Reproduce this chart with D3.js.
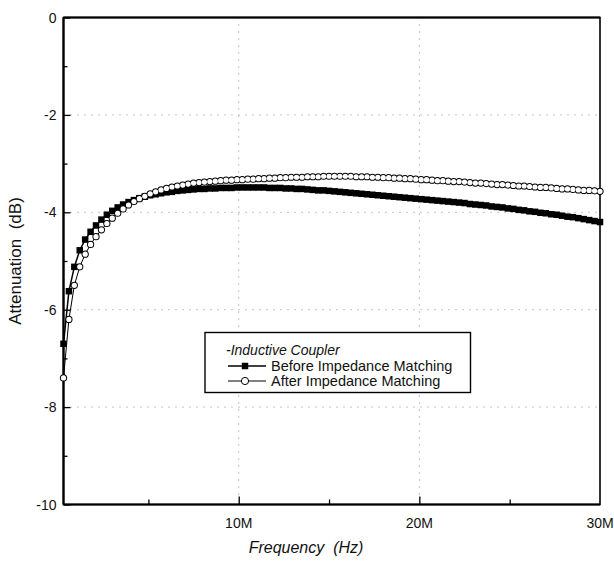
<!DOCTYPE html>
<html>
<head>
<meta charset="utf-8">
<script src="https://cdn.jsdelivr.net/npm/d3@7/dist/d3.min.js"></script>
<style>
  html, body { margin: 0; padding: 0; background: #fff; }
  svg { display: block; }
  text { font-family: "Liberation Sans", Arial, sans-serif; fill: #111; }
</style>
</head>
<body>
<svg id="chart" width="614" height="563"></svg>
<script>
// Frequency samples (MHz)
const freqMHz = [
  0.3, 0.6, 0.9, 1.2, 1.5, 1.8, 2.1, 2.4, 2.7, 3.0,
  3.3, 3.6, 3.9, 4.2, 4.5, 4.8, 5.1, 5.4, 5.7, 6.0,
  6.3, 6.6, 6.9, 7.2, 7.5, 7.8, 8.1, 8.4, 8.7, 9.0,
  9.3, 9.6, 9.9, 10.2, 10.5, 10.8, 11.1, 11.4, 11.7, 12.0,
  12.3, 12.6, 12.9, 13.2, 13.5, 13.8, 14.1, 14.4, 14.7, 15.0,
  15.3, 15.6, 15.9, 16.2, 16.5, 16.8, 17.1, 17.4, 17.7, 18.0,
  18.3, 18.6, 18.9, 19.2, 19.5, 19.8, 20.1, 20.4, 20.7, 21.0,
  21.3, 21.6, 21.9, 22.2, 22.5, 22.8, 23.1, 23.4, 23.7, 24.0,
  24.3, 24.6, 24.9, 25.2, 25.5, 25.8, 26.1, 26.4, 26.7, 27.0,
  27.3, 27.6, 27.9, 28.2, 28.5, 28.8, 29.1, 29.4, 29.7, 30.0
];

// Attenuation (dB) before impedance matching
const beforeDb = [
  -6.70, -5.62, -5.12, -4.78, -4.56, -4.40, -4.27, -4.15, -4.05, -3.97,
  -3.90, -3.84, -3.79, -3.75, -3.71, -3.68, -3.65, -3.63, -3.61, -3.59,
  -3.58, -3.56, -3.55, -3.54, -3.53, -3.52, -3.52, -3.51, -3.51, -3.50,
  -3.50, -3.50, -3.49, -3.49, -3.49, -3.49, -3.49, -3.49, -3.50, -3.50,
  -3.50, -3.51, -3.51, -3.52, -3.52, -3.53, -3.54, -3.55, -3.55, -3.56,
  -3.57, -3.58, -3.59, -3.60, -3.61, -3.62, -3.63, -3.64, -3.65, -3.66,
  -3.67, -3.68, -3.69, -3.70, -3.71, -3.72, -3.73, -3.74, -3.75, -3.76,
  -3.77, -3.78, -3.79, -3.80, -3.81, -3.83, -3.84, -3.85, -3.86, -3.88,
  -3.89, -3.90, -3.92, -3.93, -3.95, -3.96, -3.98, -3.99, -4.01, -4.02,
  -4.04, -4.05, -4.07, -4.09, -4.10, -4.12, -4.14, -4.16, -4.18, -4.20
];

// Attenuation (dB) after impedance matching
const afterDb = [
  -7.40, -6.20, -5.50, -5.12, -4.86, -4.66, -4.50, -4.36, -4.23, -4.12,
  -4.02, -3.93, -3.85, -3.78, -3.72, -3.67, -3.62, -3.58, -3.54, -3.51,
  -3.48, -3.46, -3.44, -3.42, -3.40, -3.39, -3.38, -3.37, -3.36, -3.35,
  -3.34, -3.34, -3.33, -3.33, -3.32, -3.32, -3.31, -3.31, -3.30, -3.30,
  -3.29, -3.29, -3.28, -3.28, -3.28, -3.27, -3.27, -3.27, -3.26, -3.26,
  -3.26, -3.26, -3.26, -3.26, -3.27, -3.27, -3.27, -3.28, -3.28, -3.29,
  -3.29, -3.30, -3.30, -3.31, -3.31, -3.32, -3.33, -3.33, -3.34, -3.35,
  -3.35, -3.36, -3.37, -3.37, -3.38, -3.39, -3.40, -3.40, -3.41, -3.42,
  -3.43, -3.43, -3.44, -3.45, -3.46, -3.46, -3.47, -3.48, -3.49, -3.49,
  -3.50, -3.51, -3.52, -3.52, -3.53, -3.54, -3.55, -3.55, -3.56, -3.57
];

const xTickValues = [10, 20, 30];
const xTickLabels = ["10M", "20M", "30M"];
const yTickValues = [0, -2, -4, -6, -8, -10];
const legendTitle = "-Inductive Coupler";
const seriesNames = ["Before Impedance Matching", "After Impedance Matching"];

const svg = d3.select("#chart");
const plotLeft = 63.5, plotRight = 600, plotTop = 17.5, plotBottom = 504.5;

const x = d3.scaleLinear().domain([0.3, 30]).range([plotLeft, plotRight]);
const y = d3.scaleLinear().domain([-10, 0]).range([plotBottom, plotTop]);

svg.append("rect").attr("width", 614).attr("height", 563).attr("fill", "#fff");

// dotted grid
const grid = svg.append("g").attr("stroke", "#8a8a8a").attr("stroke-width", 1)
  .attr("stroke-dasharray", "1,6").attr("fill", "none");
grid.selectAll("line.h").data([-2, -4, -6, -8]).join("line")
  .attr("class", "h")
  .attr("x1", plotLeft).attr("x2", plotRight)
  .attr("y1", d => y(d)).attr("y2", d => y(d));
grid.selectAll("line.v").data([10, 20]).join("line")
  .attr("class", "v")
  .attr("x1", d => x(d)).attr("x2", d => x(d))
  .attr("y1", plotTop).attr("y2", plotBottom);

// axes (ticks pointing into the plot)
const xAxis = d3.axisBottom(x).tickValues([5, 10, 15, 20, 25])
  .tickSizeOuter(0).tickFormat("");
const gx = svg.append("g").attr("transform", `translate(0,${plotBottom})`).call(xAxis);
gx.selectAll(".tick line").attr("y2", d => (d % 10 === 0 ? -8 : -5)).attr("stroke-width", 1.3);
gx.select(".domain").remove();

const yAxis = d3.axisLeft(y).tickValues(d3.range(-9, 0, 2).concat(yTickValues))
  .tickSizeOuter(0).tickFormat("");
const gy = svg.append("g").attr("transform", `translate(${plotLeft},0)`).call(yAxis);
gy.selectAll(".tick line").attr("x2", d => (d % 2 === 0 ? 7 : 4)).attr("stroke-width", 1.3);
gy.select(".domain").remove();

// tick labels
svg.append("g").selectAll("text").data(xTickValues).join("text")
  .attr("x", d => x(d)).attr("y", plotBottom + 23)
  .attr("text-anchor", "middle").attr("font-size", 14)
  .text((d, i) => xTickLabels[i]);
svg.append("g").selectAll("text").data(yTickValues).join("text")
  .attr("x", plotLeft - 7).attr("y", d => y(d) + 5)
  .attr("text-anchor", "end").attr("font-size", 14)
  .text(d => d);

// frame
svg.append("rect").attr("x", plotLeft).attr("y", plotTop)
  .attr("width", plotRight - plotLeft).attr("height", plotBottom - plotTop)
  .attr("fill", "none").attr("stroke", "#000").attr("stroke-width", 1.6);
svg.append("line").attr("x1", plotLeft).attr("x2", plotLeft).attr("y1", plotTop).attr("y2", plotBottom)
  .attr("stroke", "#000").attr("stroke-width", 2.2);
svg.append("line").attr("x1", plotLeft).attr("x2", plotRight).attr("y1", plotBottom).attr("y2", plotBottom)
  .attr("stroke", "#000").attr("stroke-width", 2.2);
svg.append("line").attr("x1", plotLeft).attr("x2", plotRight).attr("y1", plotTop).attr("y2", plotTop)
  .attr("stroke", "#000").attr("stroke-width", 2.2);

// axis titles
svg.append("text").attr("x", 306).attr("y", 553).attr("text-anchor", "middle")
  .attr("font-size", 16).attr("font-style", "italic").attr("xml:space", "preserve")
  .text("Frequency  (Hz)");
svg.append("text").attr("transform", `translate(21,${(plotTop + plotBottom) / 2}) rotate(-90)`)
  .attr("text-anchor", "middle").attr("font-size", 17).attr("xml:space", "preserve")
  .text("Attenuation  (dB)");

// series
const line = d3.line().x(d => x(d[0])).y(d => y(d[1]));
const beforePts = freqMHz.map((f, i) => [f, beforeDb[i]]);
const afterPts = freqMHz.map((f, i) => [f, afterDb[i]]);

const sq = 6.5;
svg.append("path").datum(beforePts).attr("d", line)
  .attr("fill", "none").attr("stroke", "#000").attr("stroke-width", 1.5);
svg.append("g").selectAll("rect").data(beforePts).join("rect")
  .attr("x", d => x(d[0]) - sq / 2).attr("y", d => y(d[1]) - sq / 2)
  .attr("width", sq).attr("height", sq).attr("fill", "#000");

// open circles: dark disks under white disks so overlapping markers merge into one outlined band
svg.append("path").datum(afterPts).attr("d", line)
  .attr("fill", "none").attr("stroke", "#000").attr("stroke-width", 1);
const rOut = 3.6, rIn = 2.6;
svg.append("g").selectAll("circle").data(afterPts).join("circle")
  .attr("cx", d => x(d[0])).attr("cy", d => y(d[1])).attr("r", rOut)
  .attr("fill", "#000");
svg.append("g").selectAll("circle").data(afterPts).join("circle")
  .attr("cx", d => x(d[0])).attr("cy", d => y(d[1])).attr("r", rIn)
  .attr("fill", "#fff");

// legend
const lg = svg.append("g");
lg.append("rect").attr("x", 205).attr("y", 332.5).attr("width", 265.5).attr("height", 60)
  .attr("fill", "#fff").attr("stroke", "#000").attr("stroke-width", 1.4);
lg.append("text").attr("x", 226).attr("y", 355).attr("font-size", 14)
  .attr("font-style", "italic").text(legendTitle);
const rowsY = [366, 381];
rowsY.forEach((ry, i) => {
  lg.append("line").attr("x1", 228).attr("x2", 266).attr("y1", ry).attr("y2", ry)
    .attr("stroke", "#000").attr("stroke-width", i === 0 ? 1.5 : 1);
  if (i === 0) {
    lg.append("rect").attr("x", 245 - sq / 2).attr("y", ry - sq / 2)
      .attr("width", sq).attr("height", sq).attr("fill", "#000");
  } else {
    lg.append("circle").attr("cx", 245).attr("cy", ry).attr("r", 3.6)
      .attr("fill", "#fff").attr("stroke", "#000").attr("stroke-width", 1);
  }
  lg.append("text").attr("x", 271).attr("y", ry + 5).attr("font-size", 14.5)
    .text(seriesNames[i]);
});
</script>
</body>
</html>
